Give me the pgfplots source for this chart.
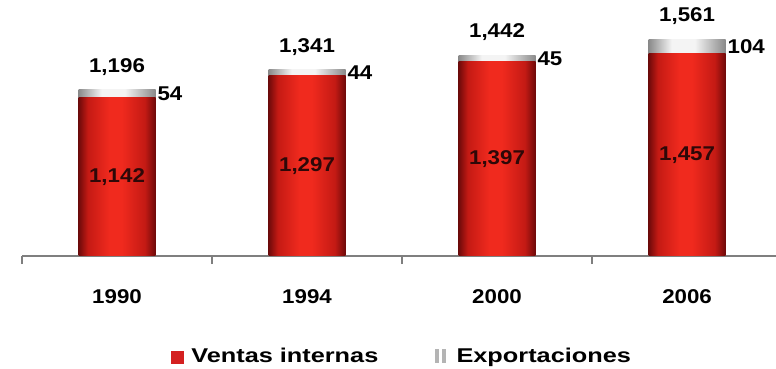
\documentclass[border=0pt]{standalone}
\usepackage{fontspec}
\setmainfont{Liberation Sans}[FakeStretch=1.12]
\newfontfamily\legfamily{Liberation Sans}[FakeStretch=1.27]
\usepackage{pgfplots}
\pgfplotsset{compat=1.18}
\usepackage{pgfplotstable}

\definecolor{rdark}{HTML}{6E0A0A}
\definecolor{rmid}{HTML}{C41A14}
\definecolor{rbright}{HTML}{F02A1E}
\definecolor{gdark}{HTML}{8A8A8A}
\definecolor{glight}{HTML}{F4F4F4}
\definecolor{axgray}{HTML}{7F7F7F}
\definecolor{lbldark}{HTML}{2E0808}
\definecolor{legred}{HTML}{D42020}
\definecolor{leggray}{HTML}{B4B4B4}

\pgfdeclarehorizontalshading{redcyl}{100bp}{color(0bp)=(rdark); color(25bp)=(rdark); color(31bp)=(rmid); color(45bp)=(rbright); color(53bp)=(rbright); color(68bp)=(rmid); color(75bp)=(rdark); color(100bp)=(rdark)}
\pgfdeclarehorizontalshading{greycyl}{100bp}{color(0bp)=(gdark); color(25bp)=(gdark); color(40bp)=(glight); color(55bp)=(glight); color(75bp)=(gdark); color(100bp)=(gdark)}

\newcommand\lblfont{\fontsize{20}{24}\selectfont\bfseries}
\newcommand\legfont{\legfamily\fontsize{20}{24}\selectfont\bfseries}

\pgfplotstableread{
x v e rlab elab tlab
0 1142 54  1,142 54  1,196
1 1297 44  1,297 44  1,341
2 1397 45  1,397 45  1,442
3 1457 104 1,457 104 1,561
}\data

\pgfplotsset{
  redbar/.style={ybar, bar width=77bp, bar shift=0pt, draw=none, shade, shading=redcyl, forget plot},
  greybar/.style={ybar, bar width=77bp, bar shift=0pt, draw=none, shade, shading=greycyl, forget plot},
}

\begin{document}
\begin{tikzpicture}
\useasboundingbox (0,0) rectangle (776bp,369bp);
\begin{axis}[
  at={(22bp,113bp)}, anchor=south west,
  scale only axis, width=754bp, height=256bp,
  xmin=-0.5, xmax=3.468, ymin=0, ymax=1842,
  axis y line=none, axis x line*=bottom,
  axis line style={draw=axgray, line width=1.3bp},
  xtick={0,1,2,3}, xticklabels={1990,1994,2000,2006},
  major tick length=0pt,
  xticklabel style={font=\lblfont, anchor=center, yshift=-41bp},
  extra x ticks={-0.5,0.5,1.5,2.5}, extra x tick labels={},
  extra x tick style={major tick length=8bp, tick align=outside, tick style={draw=axgray, line width=1.3bp}},
  clip=false,
  legend style={at={(0.504,-0.392)}, anchor=center, draw=none, fill=none,
    legend columns=2, font=\legfont,
    /tikz/every even column/.append style={column sep=55bp}},
  legend cell align=left,
]
% Exportaciones: grey bars (total height), drawn first
\addplot[greybar] coordinates {(0,1196)};
\addplot[greybar] coordinates {(1,1341)};
\addplot[greybar] coordinates {(2,1442)};
\addplot[greybar] coordinates {(3,1561)};
% Ventas internas: red bars
\addplot[redbar] coordinates {(0,1142)};
\addplot[redbar] coordinates {(1,1297)};
\addplot[redbar] coordinates {(2,1397)};
\addplot[redbar] coordinates {(3,1457)};
\addlegendimage{legend image code/.code={\fill[legred] (0bp,-7bp) rectangle (12bp,5bp); \path[draw=none] (0bp,0bp) -- (18bp,0bp);}}
\addlegendentry{Ventas internas}
\addlegendimage{legend image code/.code={\fill[leggray] (0bp,-6bp) rectangle (3bp,7bp); \fill[leggray] (7bp,-6bp) rectangle (10bp,7bp); \path[draw=none] (0bp,0bp) -- (19bp,0bp);}}
\addlegendentry{Exportaciones}
\end{axis}

\begin{axis}[
  at={(22bp,113bp)}, anchor=south west,
  scale only axis, width=754bp, height=256bp,
  xmin=-0.5, xmax=3.468, ymin=0, ymax=1842,
  hide axis, clip=false,
]
\addplot[draw=none, nodes near coords, point meta=explicit symbolic,
  nodes near coords style={anchor=center, font=\lblfont, text=lbldark}]
  table[x=x, y expr=\thisrow{v}/2, meta=rlab]{\data};
\addplot[draw=none, nodes near coords, point meta=explicit symbolic,
  nodes near coords style={anchor=west, xshift=37bp, font=\lblfont, text=black}]
  table[x=x, y expr=\thisrow{v}+\thisrow{e}/2, meta=elab]{\data};
\addplot[draw=none, nodes near coords, point meta=explicit symbolic,
  nodes near coords style={anchor=center, yshift=23bp, font=\lblfont, text=black}]
  table[x=x, y expr=\thisrow{v}+\thisrow{e}, meta=tlab]{\data};
\end{axis}
\end{tikzpicture}
\end{document}
